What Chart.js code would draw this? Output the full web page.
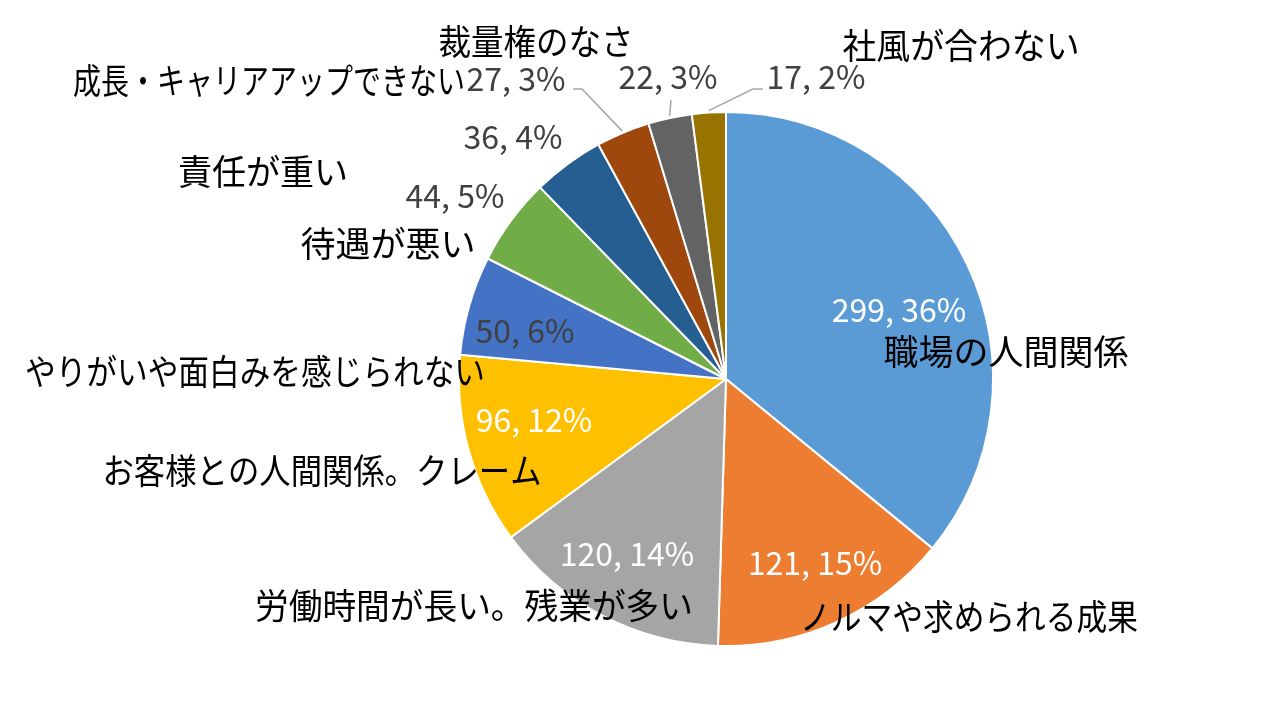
<!DOCTYPE html>
<html>
<head>
<meta charset="utf-8">
<script src="https://cdn.jsdelivr.net/npm/chart.js@4/dist/chart.umd.min.js"></script>
<style>
  html, body { margin: 0; padding: 0; background: #ffffff; }
  #wrap { width: 1283px; height: 712px; }
</style>
</head>
<body>
<div id="wrap"><canvas id="c" width="1283" height="712"></canvas></div>
<script>
// ---- data ----
const categories = [
  '職場の人間関係',
  'ノルマや求められる成果',
  '労働時間が長い。残業が多い',
  'お客様との人間関係。クレーム',
  'やりがいや面白みを感じられない',
  '待遇が悪い',
  '責任が重い',
  '成長・キャリアアップできない',
  '裁量権のなさ',
  '社風が合わない'
];
const counts = [299, 121, 120, 96, 50, 44, 36, 27, 22, 17];
const sliceColors = ['#5B9BD5', '#ED7D31', '#A5A5A5', '#FFC000', '#4472C4',
                     '#70AD47', '#255E91', '#9E480E', '#636363', '#997300'];
const valueTextColors = ['#FFFFFF', '#FFFFFF', '#FFFFFF', '#FFFFFF', '#404040',
                         '#404040', '#404040', '#404040', '#404040', '#404040'];

// ---- label layout (offsets from pie centre, px) ----
const valueOffsets = [[173,-69],[89,184],[-99,175],[-192,41],[-201,-48],
                      [-271,-183],[-213,-242],[-210,-300],[-58,-302],[90,-302]];
const nameOffsets  = [[280,-27],[243,238],[-252,227],[-404,92],[-471,-7],
                      [-338,-135],[-463,-207],[-457,-298],[-190,-337],[235,-333]];
const nameWidths   = [252, 338, 438, 439, 460, 177, 170, 392, 195, 237];
// leader lines: [elbowDx, elbowDy, endDx, endDy] or null
const leaders = [null,null,null,null,null,null,null,
                 [-144,-290,-153,-290],[-55,-279,-55,-279],[27,-290,37,-290]];

const total = counts.reduce((a, b) => a + b, 0);

const labelPlugin = {
  id: 'pieLabels',
  afterDatasetsDraw(chart) {
    const ctx = chart.ctx;
    const meta = chart.getDatasetMeta(0);
    ctx.save();
    meta.data.forEach((arc, i) => {
      const cx = arc.x, cy = arc.y;
      const R = arc.outerRadius;
      const mid = (arc.startAngle + arc.endAngle) / 2;
      const ld = leaders[i];
      if (ld) {
        ctx.beginPath();
        ctx.strokeStyle = '#A6A6A6';
        ctx.lineWidth = 1.5;
        ctx.moveTo(cx + Math.cos(mid) * (R + 2), cy + Math.sin(mid) * (R + 2));
        ctx.lineTo(cx + ld[0], cy + ld[1]);
        ctx.lineTo(cx + ld[2], cy + ld[3]);
        ctx.stroke();
      }
      ctx.textAlign = 'center';
      ctx.textBaseline = 'middle';
      ctx.font = '35px "Noto Sans CJK JP", sans-serif';
      ctx.fillStyle = '#000000';
      ctx.fillText(categories[i], cx + nameOffsets[i][0], cy + nameOffsets[i][1], nameWidths[i]);
    });
    meta.data.forEach((arc, i) => {
      const cx = arc.x, cy = arc.y;
      const pct = Math.round(counts[i] / total * 100);
      ctx.font = '32px "Noto Sans CJK JP", "Noto Sans", sans-serif';
      ctx.fillStyle = valueTextColors[i];
      ctx.textAlign = 'center';
      ctx.textBaseline = 'middle';
      ctx.fillText(counts[i] + ', ' + pct + '%', cx + valueOffsets[i][0], cy + valueOffsets[i][1]);
    });
    ctx.restore();
  }
};

new Chart(document.getElementById('c'), {
  type: 'pie',
  data: {
    labels: categories,
    datasets: [{
      data: counts,
      backgroundColor: sliceColors,
      borderColor: '#FFFFFF',
      borderWidth: 2,
      radius: 267
    }]
  },
  options: {
    responsive: false,
    animation: false,
    layout: { padding: { left: 169, right: 0, top: 46, bottom: 0 } },
    plugins: {
      legend: { display: false },
      tooltip: { enabled: false }
    }
  },
  plugins: [labelPlugin]
});
</script>
</body>
</html>
